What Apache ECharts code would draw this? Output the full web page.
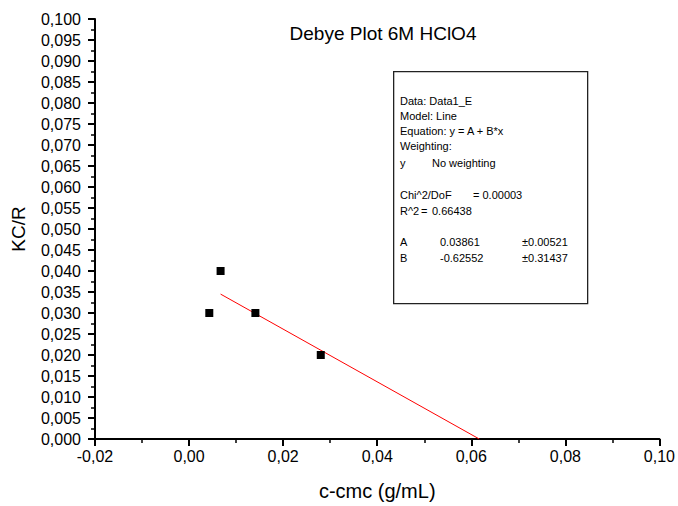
<!DOCTYPE html>
<html>
<head>
<meta charset="utf-8">
<script src="https://cdn.jsdelivr.net/npm/echarts@6/dist/echarts.min.js"></script>
<style>
html,body{margin:0;padding:0;background:#fff;}
#chart{width:678px;height:506px;}
</style>
</head>
<body>
<div id="chart"></div>
<script>
// Data
var pointsX = [0.0043, 0.0067, 0.0141, 0.0280];
var pointsY = [0.030, 0.040, 0.030, 0.020];
var fitLineX = [0.0067, 0.0617];
var fitLineY = [0.0345, 0.0];
var titleText = 'Debye Plot 6M HClO4';
var xName = 'c-cmc (g/mL)';
var yName = 'KC/R';
var boxLines = [
  ['Data: Data1_E'],
  ['Model: Line'],
  ['Equation: y = A + B*x'],
  ['Weighting:'],
  ['y', 'No weighting'],
  [],
  ['Chi^2/DoF', '= 0.00003'],
  ['R^2', '=', '0.66438'],
  [],
  ['A', '0.03861', '\u00b10.00521'],
  ['B', '-0.62552', '\u00b10.31437']
];

var FONT = 'Liberation Sans, Arial, sans-serif';
var chart = echarts.init(document.getElementById('chart'), null, {renderer: 'svg'});

function comma(v, d) { return v.toFixed(d).replace('.', ','); }

var scatterData = pointsX.map(function (x, i) { return [x, pointsY[i]]; });
var fitData = fitLineX.map(function (x, i) { return [x, fitLineY[i]]; });

// text box graphic
var boxX = 393, boxY = 71, boxW = 194, boxH = 232;
var graphics = [{
  type: 'rect', left: boxX, top: boxY,
  shape: {width: boxW, height: boxH},
  style: {fill: '#fff', stroke: '#222', lineWidth: 1.3}
}];
var lineYs = [101, 116, 131, 146, 163, 0, 195, 211, 0, 242, 258];
var colX = {
  4: [400, 432],
  6: [400, 473],
  7: [400, 421, 432],
  9: [400, 440, 522],
  10: [400, 440, 522]
};
boxLines.forEach(function (parts, i) {
  parts.forEach(function (t, j) {
    var x = colX[i] ? colX[i][j] : 400;
    graphics.push({
      type: 'text', left: x, top: lineYs[i] - 6,
      style: {text: t, fill: '#000', font: '11px ' + FONT}
    });
  });
});

chart.setOption({
  animation: false,
  backgroundColor: '#fff',
  title: {
    text: titleText,
    left: 378, top: 19, textAlign: 'center',
    textStyle: {fontFamily: FONT, fontSize: 19, fontWeight: 'normal', color: '#000'}
  },
  grid: {left: 95, right: 16, top: 19, bottom: 65, containLabel: false},
  xAxis: {
    type: 'value', min: -0.02, max: 0.10, interval: 0.02,
    name: xName, nameLocation: 'middle', nameGap: 42,
    nameTextStyle: {fontFamily: FONT, fontSize: 20, color: '#000'},
    axisLine: {onZero: false, lineStyle: {color: '#000', width: 2}},
    axisTick: {show: true, length: 7, lineStyle: {color: '#000', width: 2}},
    minorTick: {show: true, splitNumber: 2, length: 4, lineStyle: {color: '#000', width: 1.5}},
    axisLabel: {
      margin: 9, color: '#000', fontFamily: FONT, fontSize: 16,
      formatter: function (v) { return comma(v, 2); }
    },
    splitLine: {show: false}
  },
  yAxis: {
    type: 'value', min: 0, max: 0.1, interval: 0.005,
    name: yName, nameLocation: 'middle', nameGap: 67, nameRotate: 90,
    nameTextStyle: {fontFamily: FONT, fontSize: 19, color: '#000'},
    axisLine: {show: true, onZero: false, lineStyle: {color: '#000', width: 2}},
    axisTick: {show: true, length: 7, lineStyle: {color: '#000', width: 2}},
    minorTick: {show: true, splitNumber: 2, length: 4, lineStyle: {color: '#000', width: 1.5}},
    axisLabel: {
      margin: 14, color: '#000', fontFamily: FONT, fontSize: 16,
      formatter: function (v) { return comma(v, 3); }
    },
    splitLine: {show: false}
  },
  series: [{
    type: 'line', data: fitData, showSymbol: false, symbol: 'none',
    lineStyle: {color: '#ff0000', width: 1}, z: 2
  }, {
    type: 'scatter', data: scatterData, symbol: 'rect', symbolSize: 8,
    itemStyle: {color: '#000', opacity: 1}, z: 3
  }],
  graphic: graphics
});
</script>
</body>
</html>
